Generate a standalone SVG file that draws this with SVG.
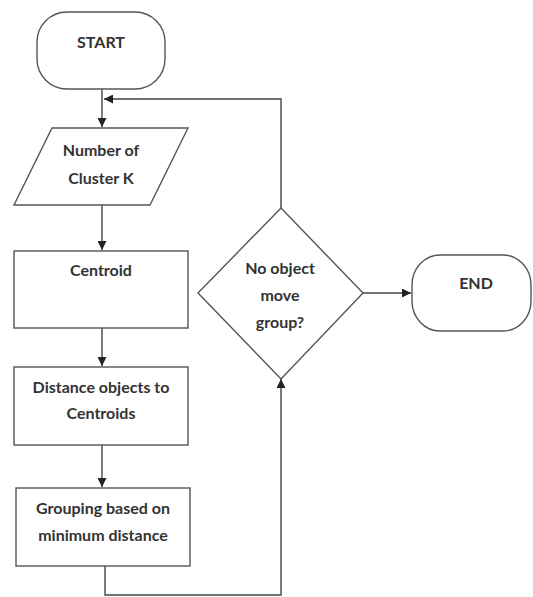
<svg xmlns="http://www.w3.org/2000/svg" width="533" height="597" viewBox="0 0 533 597">
<style>
.s{fill:#fff;stroke:#555;stroke-width:1.4}
.c{fill:none;stroke:#444;stroke-width:1.4}
text{font-family:Lato,"Open Sans","Liberation Sans",sans-serif;font-weight:bold;font-size:16px;fill:#333;text-anchor:middle}
</style>
<defs>
<marker id="a" viewBox="0 0 10 10" refX="10" refY="5" markerWidth="9" markerHeight="9" markerUnits="userSpaceOnUse" orient="auto">
<path d="M0,0 L10,5 L0,10 z" fill="#222"/>
</marker>
</defs>
<rect width="533" height="597" fill="#fff"/>
<g id="connectors">
<path class="c" d="M102,89 V127" marker-end="url(#a)"/>
<path class="c" d="M281,208 V99 H104" marker-end="url(#a)"/>
<path class="c" d="M102,205 V250" marker-end="url(#a)"/>
<path class="c" d="M102,328 V366" marker-end="url(#a)"/>
<path class="c" d="M102,445 V487" marker-end="url(#a)"/>
<path class="c" d="M105,566 V595 H281 V379" marker-end="url(#a)"/>
<path class="c" d="M363,293 H411" marker-end="url(#a)"/>
</g>
<g id="start">
<rect class="s" x="37" y="12" width="128" height="77" rx="30" ry="30"/>
<text x="101" y="48">START</text>
</g>
<g id="input">
<polygon class="s" points="52,128 188,128 150,205 14,205"/>
<text x="101" y="156">Number of</text>
<text x="101" y="184">Cluster K</text>
</g>
<g id="centroid">
<rect class="s" x="14" y="251" width="174" height="77"/>
<text x="101" y="276">Centroid</text>
</g>
<g id="distance">
<rect class="s" x="14" y="367" width="174" height="78"/>
<text x="101" y="393">Distance objects to</text>
<text x="101" y="419">Centroids</text>
</g>
<g id="grouping">
<rect class="s" x="16" y="488" width="174" height="78"/>
<text x="103" y="514">Grouping based on</text>
<text x="103" y="541">minimum distance</text>
</g>
<g id="decision">
<polygon class="s" points="281,208 363,293 281,379 198,293"/>
<text x="280" y="274">No object</text>
<text x="280" y="301">move</text>
<text x="280" y="328">group?</text>
</g>
<g id="end">
<rect class="s" x="412" y="255" width="119" height="76" rx="28" ry="30"/>
<text x="476" y="289">END</text>
</g>
</svg>
